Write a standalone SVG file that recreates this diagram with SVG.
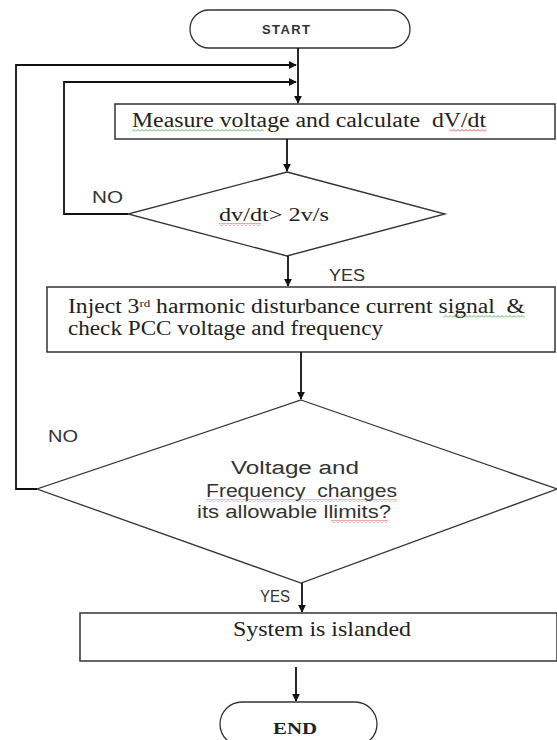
<svg xmlns="http://www.w3.org/2000/svg" width="557" height="740" viewBox="0 0 557 740">
<style>
.bg{fill:#fff}
.box{fill:#fff;stroke:#333;stroke-width:1.5}
.dia{fill:#fff;stroke:#333;stroke-width:1.3}
.term{fill:#fff;stroke:#333;stroke-width:1.3}
.ln{fill:none;stroke:#111;stroke-width:1.8}
.serif{font-family:"Liberation Serif","Times New Roman",serif;fill:#222}
.sans{font-family:"Liberation Sans",Arial,sans-serif;fill:#333}
</style>
<defs>
<marker id="ah" viewBox="0 0 10 10" refX="9" refY="5" markerWidth="4.5" markerHeight="4.5" orient="auto" markerUnits="strokeWidth">
<path d="M0,0 L10,5 L0,10 z" fill="#111"/>
</marker>
<pattern id="wavR" width="4" height="3" patternUnits="userSpaceOnUse">
<path d="M0,2.5 L2,0.5 L4,2.5" fill="none" stroke="#d22" stroke-width="0.8"/>
</pattern>
<pattern id="wavG" width="4" height="3" patternUnits="userSpaceOnUse">
<path d="M0,2.5 L2,0.5 L4,2.5" fill="none" stroke="#3a3" stroke-width="0.8"/>
</pattern>
</defs>
<rect class="bg" x="0" y="0" width="557" height="740"/>

<g id="start">
<rect class="term" x="190" y="10" width="220" height="38" rx="19" ry="19"/>
<text class="sans" x="262" y="34" font-size="13" font-weight="bold" textLength="48" lengthAdjust="spacing">START</text>
</g>

<g id="measure">
<rect class="box" x="115" y="104" width="440" height="35"/>
<text class="serif" x="132" y="127" font-size="20" xml:space="preserve" textLength="354" lengthAdjust="spacingAndGlyphs">Measure voltage and calculate  dV/dt</text>
<rect x="132" y="129" width="132" height="3" fill="url(#wavG)"/>
<rect x="450" y="129" width="36" height="3" fill="url(#wavR)"/>
</g>

<g id="check1">
<polygon class="dia" points="287,172 445,214 287,256 128,214"/>
<text class="serif" x="219" y="221" font-size="19" textLength="110" lengthAdjust="spacingAndGlyphs">dv/dt&gt; 2v/s</text>
<rect x="219" y="223" width="42" height="3" fill="url(#wavR)"/>
</g>

<g id="inject">
<rect class="box" x="47" y="287" width="508" height="65"/>
<text class="serif" x="68" y="313" font-size="20" xml:space="preserve" textLength="457" lengthAdjust="spacingAndGlyphs">Inject 3<tspan font-size="11" baseline-shift="super">rd</tspan> harmonic disturbance current signal  &amp;</text>
<rect x="443" y="315" width="82" height="3" fill="url(#wavG)"/>
<text class="serif" x="68" y="335" font-size="20" textLength="315" lengthAdjust="spacingAndGlyphs">check PCC voltage and frequency</text>
</g>

<g id="check2">
<polygon class="dia" points="301,400 557,489 301,583 37,489"/>
<text class="sans" x="231" y="474" font-size="18" textLength="128" lengthAdjust="spacingAndGlyphs">Voltage and</text>
<text class="sans" x="206" y="497" font-size="18" xml:space="preserve" textLength="191" lengthAdjust="spacingAndGlyphs">Frequency  changes</text>
<rect x="206" y="499" width="191" height="3" fill="url(#wavG)"/>
<text class="sans" x="197" y="518" font-size="18" textLength="194" lengthAdjust="spacingAndGlyphs">its allowable llimits?</text>
<rect x="331" y="520" width="57" height="3" fill="url(#wavR)"/>
</g>

<g id="islanded">
<rect class="box" x="80" y="613" width="477" height="48"/>
<text class="serif" x="233" y="636" font-size="21" textLength="178" lengthAdjust="spacingAndGlyphs">System is islanded</text>
</g>

<g id="end">
<rect class="term" x="220" y="702" width="157" height="44" rx="22" ry="22"/>
<text class="serif" x="273" y="734" font-size="16" font-weight="bold" textLength="44" lengthAdjust="spacingAndGlyphs">END</text>
</g>

<g id="connectors">
<line class="ln" x1="298" y1="48" x2="298" y2="103" marker-end="url(#ah)"/>
<polyline class="ln" points="37,489 16,489 16,65 296,65" marker-end="url(#ah)"/>
<polyline class="ln" points="128,214 64,214 64,82 296,82" marker-end="url(#ah)"/>
<line class="ln" x1="287" y1="139" x2="287" y2="171" marker-end="url(#ah)"/>
<line class="ln" x1="288" y1="256" x2="288" y2="286" marker-end="url(#ah)"/>
<line class="ln" x1="301" y1="352" x2="301" y2="399" marker-end="url(#ah)"/>
<line class="ln" x1="302" y1="583" x2="302" y2="612" marker-end="url(#ah)"/>
<line class="ln" x1="296" y1="667" x2="296" y2="701" marker-end="url(#ah)"/>
<text class="sans" x="92" y="203" font-size="16" textLength="31" lengthAdjust="spacingAndGlyphs">NO</text>
<text class="sans" x="329" y="281" font-size="16" textLength="36" lengthAdjust="spacingAndGlyphs">YES</text>
<text class="sans" x="48" y="442" font-size="16" textLength="30" lengthAdjust="spacingAndGlyphs">NO</text>
<text class="sans" x="260" y="602" font-size="16" textLength="30" lengthAdjust="spacingAndGlyphs">YES</text>
</g>
</svg>
